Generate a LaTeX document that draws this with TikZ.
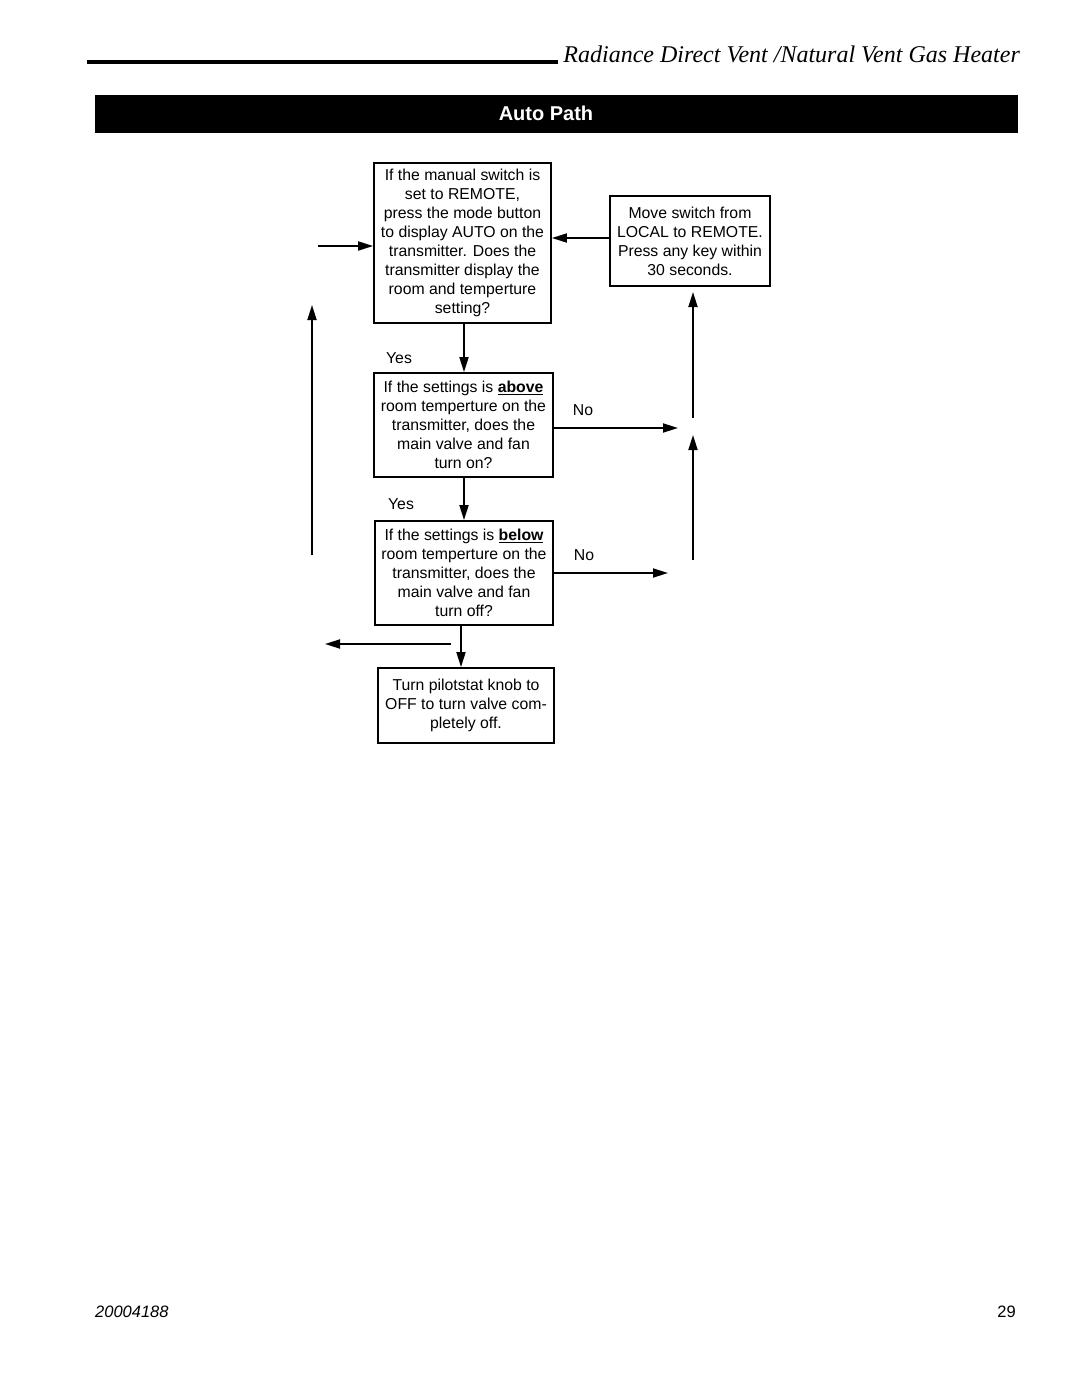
\documentclass[tikz,border=0pt]{standalone}
\usepackage{fontspec}
\setmainfont{Liberation Sans}
\newfontfamily\hdrfont{Liberation Serif}
\usetikzlibrary{arrows.meta}
\begin{document}
\begin{tikzpicture}[x=1pt,y=-1pt,
  box/.style={draw,line width=1.8pt,rectangle,inner sep=0pt,align=center,
    font=\fontsize{15.8}{19}\selectfont},
  arr/.style={line width=1.8pt,-{Triangle[length=15pt,width=9pt]}},
  lbl/.style={font=\fontsize{15.8}{19}\selectfont,inner sep=0pt}]
\useasboundingbox (0,0) rectangle (1080,1397);
% header
\draw[line width=4pt] (87,62) coordinate (hl1) -- (558,62) coordinate (hl2);
\node[anchor=base east,inner sep=0pt,font=\hdrfont\itshape\fontsize{24}{26}\selectfont] (hdr) at (1020,63) {Radiance Direct Vent /Natural Vent Gas Heater};
\node[fill=black,minimum width=923pt,minimum height=38pt,inner sep=0pt,anchor=north west] (bar) at (95,95) {};
\node[text=white,font=\bfseries\fontsize{20}{22}\selectfont,inner sep=0pt] (title) at (546,113) {Auto Path};
% boxes
\node[box,minimum width=177pt,minimum height=160pt] (b1) at (462.5,243) {If the manual switch is\\set to REMOTE,\\press the mode button\\to display AUTO on the\\transmitter. Does the\\transmitter display the\\room and temperture\\setting?};
\node[box,minimum width=160pt,minimum height=90pt] (b2) at (690,241) {Move switch from\\LOCAL to REMOTE.\\Press any key within\\30 seconds.};
\node[box,minimum width=179pt,minimum height=104pt] (b3) at (463.5,425) {If the settings is \underline{\textbf{above}}\\room temperture on the\\transmitter, does the\\main valve and fan\\turn on?};
\node[box,minimum width=178pt,minimum height=104pt] (b4) at (464,573) {If the settings is \underline{\textbf{below}}\\room temperture on the\\transmitter, does the\\main valve and fan\\turn off?};
\node[box,minimum width=176pt,minimum height=75pt] (b5) at (466,705.5) {Turn pilotstat knob to\\OFF to turn valve com-\\pletely off.};
% labels
\node[lbl] (y1) at (399,358) {Yes};
\node[lbl] (y2) at (401,504) {Yes};
\node[lbl] (n1) at (583,410) {No};
\node[lbl] (n2) at (584,555) {No};
% coordinates
\coordinate (inL) at (318,246);
\coordinate (upB) at (312,555);
\coordinate (upT) at (312,305);
\coordinate (n1e) at (678,428);
\coordinate (n2e) at (668,573);
\coordinate (r1b) at (693,418);
\coordinate (r1t) at (693,292);
\coordinate (r2b) at (693,560);
\coordinate (r2t) at (693,435);
\coordinate (dS) at (461,625);
\coordinate (lfS) at (451,644);
\coordinate (lfE) at (325,644);
% connectors
\draw[arr] (b2.west |- 0,238) -- (b1.east |- 0,238);
\draw[arr] (inL) -- (inL -| b1.west);
\draw[arr] (upB) -- (upT);
\draw[arr] (b1.south -| b4.north) -- (b3.north -| b4.north);
\draw[arr] (b3.south -| b4.north) -- (b4.north);
\draw[arr] (b3.east |- n1e) -- (n1e);
\draw[arr] (b4.east |- n2e) -- (n2e);
\draw[arr] (r1b) -- (r1t);
\draw[arr] (r2b) -- (r2t);
\draw[arr] (dS) -- (dS |- b5.north);
\draw[arr] (lfS) -- (lfE);
% footer
\node[anchor=base west,inner sep=0pt,font=\itshape\fontsize{16.5}{18}\selectfont] (code) at (95,1317) {20004188};
\node[anchor=base east,inner sep=0pt,font=\fontsize{16.5}{18}\selectfont] (page) at (1016,1317) {29};
\end{tikzpicture}
\end{document}
